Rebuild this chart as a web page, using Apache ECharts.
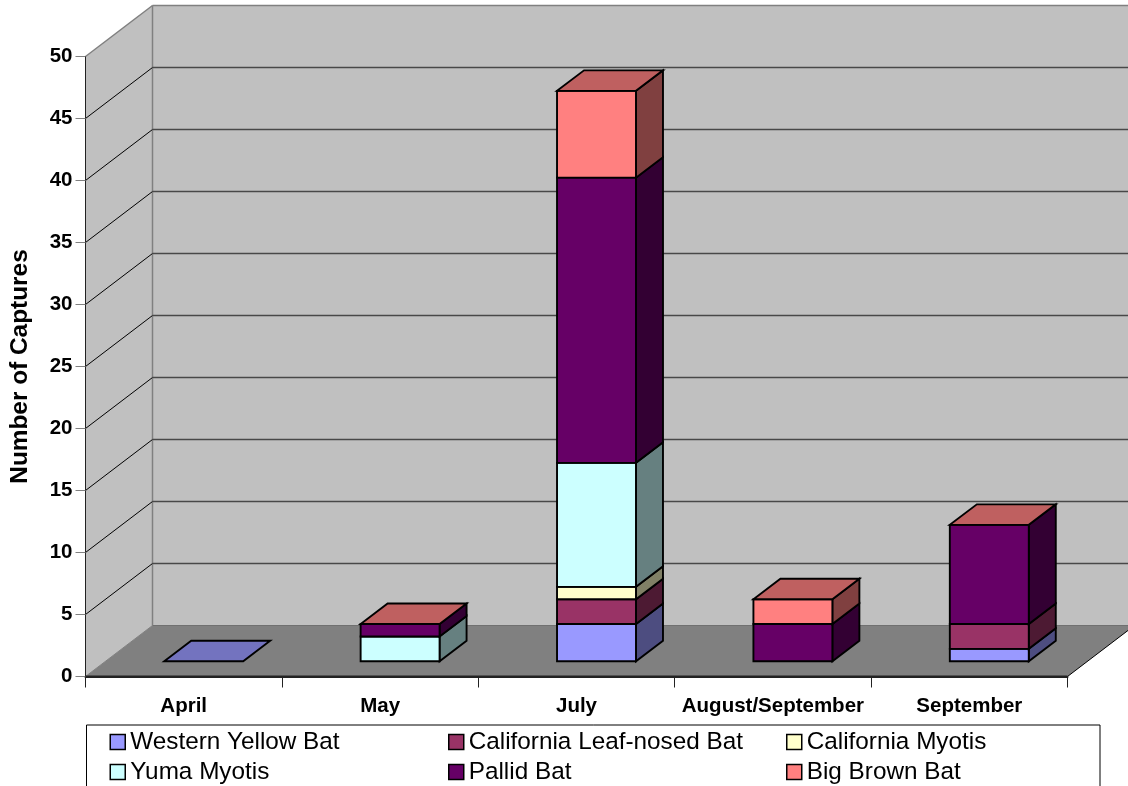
<!DOCTYPE html>
<html>
<head>
<meta charset="utf-8">
<title>Bat captures by month</title>
<script src="https://cdn.jsdelivr.net/npm/echarts@6/dist/echarts.min.js"></script>
<style>html,body{margin:0;padding:0;background:#fff}#chart{width:1128px;height:786px}</style>
</head>
<body>
<div id="chart"></div>
<script>
// Captures per sampling period; null means the species has no stack entry that period.
const months = ['April', 'May', 'July', 'August/September', 'September'];
const yTicks = [0, 5, 10, 15, 20, 25, 30, 35, 40, 45, 50];
const westernYellowBat = [0, null, 3, null, 1];
const californiaLeafNosedBat = [null, null, 2, null, 2];
const californiaMyotis = [null, null, 1, null, null];
const yumaMyotis = [null, 2, 10, null, null];
const pallidBat = [null, 1, 23, 3, 8];
const bigBrownBat = [null, 0, 7, 2, 0];

const speciesNames = ['Western Yellow Bat', 'California Leaf-nosed Bat', 'California Myotis', 'Yuma Myotis', 'Pallid Bat', 'Big Brown Bat'];
const speciesValues = [westernYellowBat, californiaLeafNosedBat, californiaMyotis, yumaMyotis, pallidBat, bigBrownBat];
const frontColors = ['#9999FF', '#993366', '#FFFFCC', '#CCFFFF', '#660066', '#FF8080'];
const topColors = ['#7373BF', '#73264D', '#BFBF99', '#99BFBF', '#4D004D', '#BF6060'];
const sideColors = ['#4D4D80', '#4D1A33', '#808066', '#668080', '#330033', '#804040'];

// Projection of the chart box and of the bars into the oblique view.
const WALL_DX = 67, WALL_DY = -51;
const BAR_DX = 27, BAR_DY = -20.5;
const BAR_RATIO = 0.402;
const BAR_STROKE = 1.9;

function poly(points, fill, stroke, width) {
  return {
    type: 'polygon',
    shape: { points },
    style: { fill, stroke: stroke || 'none', lineWidth: width || 0, lineJoin: 'miter' }
  };
}
function line(x1, y1, x2, y2, stroke, width) {
  return { type: 'line', shape: { x1, y1, x2, y2 }, style: { stroke, lineWidth: width } };
}

// Walls, floor and the gridlines that wrap around them, one data item per tick.
function renderBox(params, api) {
  const value = api.value(0);
  const box = params.coordSys;
  const left = box.x, right = box.x + box.width;
  const y = api.coord([0, value])[1];
  const children = [];
  if (value === 0) {
    const top = box.y;
    children.push(poly([[left, y], [left + WALL_DX, y + WALL_DY], [left + WALL_DX, top + WALL_DY], [left, top]], '#C0C0C0'));
    children.push(poly([[left + WALL_DX, y + WALL_DY], [right + WALL_DX, y + WALL_DY], [right + WALL_DX, top + WALL_DY], [left + WALL_DX, top + WALL_DY]], '#C0C0C0'));
    children.push(poly([[left, y], [right, y], [right + WALL_DX, y + WALL_DY], [left + WALL_DX, y + WALL_DY]], '#808080'));
    children.push(line(left + WALL_DX, y + WALL_DY, left + WALL_DX, top + WALL_DY, '#808080', 1.5));
    children.push(line(left, y, left + WALL_DX, y + WALL_DY, '#808080', 1));
    children.push(line(left + WALL_DX, y + WALL_DY, right + WALL_DX, y + WALL_DY, '#707070', 1));
    children.push(line(right, y, right + WALL_DX, y + WALL_DY, '#000', 1));
    children.push(line(left, y, left, top, '#222', 1));
    children.push(line(left, y, right, y, '#222', 2));
  } else {
    const edge = value === 50 ? '#808080' : '#000';
    children.push(line(left, y, left + WALL_DX, y + WALL_DY, edge, value === 50 ? 1.5 : 1));
    children.push(line(left + WALL_DX, y + WALL_DY, right + WALL_DX, y + WALL_DY, value === 50 ? '#808080' : '#484848', 1.5));
  }
  return { type: 'group', children };
}

function isTopOfStack(seriesIndex, cat) {
  for (let s = seriesIndex + 1; s < speciesValues.length; s++) {
    if (speciesValues[s][cat] !== null) return false;
  }
  return true;
}

function renderSegment(s) {
  return function (params, api) {
    const cat = api.value(0);
    const center = api.coord([cat, 0])[0] + (WALL_DX - BAR_DX) / 2;
    const lift = (WALL_DY - BAR_DY) / 2;
    const half = api.size([1, 0])[0] * BAR_RATIO / 2;
    const x1 = center - half, x2 = center + half;
    const yBase = api.coord([cat, api.value(1)])[1] + lift;
    const yTop = api.coord([cat, api.value(2)])[1] + lift;
    const children = [];
    if (yBase !== yTop) {
      children.push(poly([[x2, yTop], [x2 + BAR_DX, yTop + BAR_DY], [x2 + BAR_DX, yBase + BAR_DY], [x2, yBase]], sideColors[s], '#000', BAR_STROKE));
      children.push(poly([[x1, yTop], [x2, yTop], [x2, yBase], [x1, yBase]], frontColors[s], '#000', BAR_STROKE));
    }
    if (isTopOfStack(s, cat)) {
      children.push(poly([[x1, yTop], [x2, yTop], [x2 + BAR_DX, yTop + BAR_DY], [x1 + BAR_DX, yTop + BAR_DY]], topColors[s], '#000', BAR_STROKE));
    }
    return { type: 'group', children };
  };
}

const running = months.map(() => 0);
const barSeries = speciesNames.map((name, s) => {
  const data = [];
  speciesValues[s].forEach((v, cat) => {
    if (v === null) return;
    data.push([cat, running[cat], running[cat] + v]);
    running[cat] += v;
  });
  return {
    name,
    type: 'custom',
    coordinateSystem: 'cartesian2d',
    renderItem: renderSegment(s),
    encode: { x: 0, y: [1, 2] },
    data,
    z: 3 + s,
    silent: true,
    clip: false,
    itemStyle: { color: frontColors[s], borderColor: '#000', borderWidth: 1.5 }
  };
});

const legendColumn = (names, left) => ({
  data: names,
  orient: 'vertical',
  left,
  top: 730,
  height: 80,
  itemWidth: 15,
  itemHeight: 15,
  itemGap: 6,
  itemStyle: { borderColor: '#000', borderWidth: 1.5 },
  padding: 0,
  icon: 'rect',
  selectedMode: false,
  textStyle: { fontFamily: 'Liberation Sans', fontSize: 24.3, color: '#000' }
});

const chart = echarts.init(document.getElementById('chart'), null, { renderer: 'canvas' });
chart.setOption({
  animation: false,
  backgroundColor: '#fff',
  grid: { left: 85.5, right: 60.5, top: 56.5, bottom: 109.5, outerBoundsMode: 'none' },
  xAxis: {
    type: 'category',
    data: months,
    z: 10,
    axisLine: { show: true, onZero: false, lineStyle: { color: '#222', width: 2 } },
    axisTick: { show: true, length: 11, alignWithLabel: false, lineStyle: { color: '#222', width: 1 } },
    axisLabel: { fontFamily: 'Liberation Sans', fontWeight: 'bold', fontSize: 20.5, color: '#000', margin: 19, interval: 0 },
    splitLine: { show: false }
  },
  yAxis: {
    type: 'value',
    min: yTicks[0],
    max: yTicks[yTicks.length - 1],
    interval: yTicks[1] - yTicks[0],
    name: 'Number of Captures',
    nameLocation: 'middle',
    nameGap: 53,
    nameTextStyle: { fontFamily: 'Liberation Sans', fontWeight: 'bold', fontSize: 24.4, color: '#000' },
    z: 10,
    axisLine: { show: true, onZero: false, lineStyle: { color: '#222', width: 1 } },
    axisTick: { show: true, length: 10, lineStyle: { color: '#808080', width: 1 } },
    axisLabel: { fontFamily: 'Liberation Sans', fontWeight: 'bold', fontSize: 20.5, color: '#000', margin: 13, padding: [4, 0, 0, 0] },
    splitLine: { show: false }
  },
  legend: [
    legendColumn([speciesNames[0], speciesNames[3]], 109.5),
    legendColumn([speciesNames[1], speciesNames[4]], 448),
    legendColumn([speciesNames[2], speciesNames[5]], 786)
  ],
  graphic: [{
    type: 'rect',
    silent: true,
    z: -1,
    shape: { x: 86.5, y: 725, width: 1013.5, height: 80 },
    style: { fill: '#fff', stroke: '#000', lineWidth: 1 }
  }],
  series: [{
    type: 'custom',
    coordinateSystem: 'cartesian2d',
    renderItem: renderBox,
    encode: { y: 0 },
    data: yTicks.map(v => [v]),
    z: 1,
    silent: true,
    clip: false
  }].concat(barSeries)
});
</script>
</body>
</html>
